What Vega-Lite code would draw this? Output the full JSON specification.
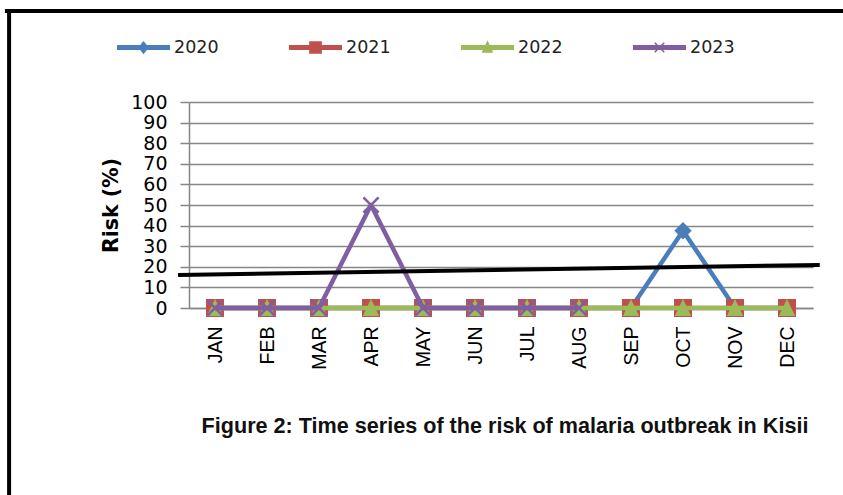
{
  "$schema": "https://vega.github.io/schema/vega-lite/v6.json",
  "width": 624,
  "height": 206,
  "autosize": "none",
  "padding": {"left": 189, "top": 102, "right": 30, "bottom": 187},
  "background": "white",
  "config": {"view": {"stroke": null}},
  "title": {
    "text": "Figure 2: Time series of the risk of malaria outbreak in Kisii",
    "orient": "bottom",
    "anchor": "middle",
    "dx": 4,
    "offset": -84,
    "font": "Liberation Sans",
    "fontSize": 21.6,
    "fontWeight": "bold",
    "color": "#111"
  },
  "datasets": {
    "risk": [
      {"year": "2020", "month": "JAN", "risk": 0},
      {"year": "2020", "month": "FEB", "risk": 0},
      {"year": "2020", "month": "MAR", "risk": 0},
      {"year": "2020", "month": "APR", "risk": 0},
      {"year": "2020", "month": "MAY", "risk": 0},
      {"year": "2020", "month": "JUN", "risk": 0},
      {"year": "2020", "month": "JUL", "risk": 0},
      {"year": "2020", "month": "AUG", "risk": 0},
      {"year": "2020", "month": "SEP", "risk": 0},
      {"year": "2020", "month": "OCT", "risk": 37.5},
      {"year": "2020", "month": "NOV", "risk": 0},
      {"year": "2020", "month": "DEC", "risk": 0},
      {"year": "2021", "month": "JAN", "risk": 0},
      {"year": "2021", "month": "FEB", "risk": 0},
      {"year": "2021", "month": "MAR", "risk": 0},
      {"year": "2021", "month": "APR", "risk": 0},
      {"year": "2021", "month": "MAY", "risk": 0},
      {"year": "2021", "month": "JUN", "risk": 0},
      {"year": "2021", "month": "JUL", "risk": 0},
      {"year": "2021", "month": "AUG", "risk": 0},
      {"year": "2021", "month": "SEP", "risk": 0},
      {"year": "2021", "month": "OCT", "risk": 0},
      {"year": "2021", "month": "NOV", "risk": 0},
      {"year": "2021", "month": "DEC", "risk": 0},
      {"year": "2022", "month": "JAN", "risk": 0},
      {"year": "2022", "month": "FEB", "risk": 0},
      {"year": "2022", "month": "MAR", "risk": 0},
      {"year": "2022", "month": "APR", "risk": 0},
      {"year": "2022", "month": "MAY", "risk": 0},
      {"year": "2022", "month": "JUN", "risk": 0},
      {"year": "2022", "month": "JUL", "risk": 0},
      {"year": "2022", "month": "AUG", "risk": 0},
      {"year": "2022", "month": "SEP", "risk": 0},
      {"year": "2022", "month": "OCT", "risk": 0},
      {"year": "2022", "month": "NOV", "risk": 0},
      {"year": "2022", "month": "DEC", "risk": 0},
      {"year": "2023", "month": "JAN", "risk": 0},
      {"year": "2023", "month": "FEB", "risk": 0},
      {"year": "2023", "month": "MAR", "risk": 0},
      {"year": "2023", "month": "APR", "risk": 50},
      {"year": "2023", "month": "MAY", "risk": 0},
      {"year": "2023", "month": "JUN", "risk": 0},
      {"year": "2023", "month": "JUL", "risk": 0},
      {"year": "2023", "month": "AUG", "risk": 0}
    ],
    "threshold": [
      {"t": -0.21, "risk": 16.0},
      {"t": 12.13, "risk": 20.9}
    ]
  },
  "resolve": {"scale": {"x": "independent", "y": "independent"}, "axis": {"x": "independent", "y": "independent"}},
  "layer": [
    {
      "data": {"name": "risk"},
      "encoding": {
        "x": {
          "field": "month",
          "type": "ordinal",
          "scale": {"domain": ["JAN","FEB","MAR","APR","MAY","JUN","JUL","AUG","SEP","OCT","NOV","DEC"], "paddingInner": 0, "paddingOuter": 0},
          "axis": {
            "title": null,
            "labelAngle": -90,
            "labelFont": "Liberation Sans",
            "labelFontSize": 19.5,
            "labelColor": "#000",
            "labelPadding": 12,
            "bandPosition": 0,
            "tickSize": 6,
            "tickColor": "#868686",
            "tickWidth": 1.5,
            "domainColor": "#868686",
            "domainWidth": 1.5,
            "grid": false
          }
        },
        "y": {
          "field": "risk",
          "type": "quantitative",
          "scale": {"domain": [0, 100], "nice": false, "zero": false},
          "axis": {
            "title": "Risk (%)",
            "titleFont": "DejaVu Sans",
            "titleFontSize": 20.5,
            "titleFontWeight": "bold",
            "titleColor": "#000",
            "titlePadding": 9,
            "values": [0,10,20,30,40,50,60,70,80,90,100],
            "labelFont": "DejaVu Sans",
            "labelFontSize": 19,
            "labelColor": "#000",
            "labelPadding": 13,
            "tickSize": 9,
            "tickColor": "#868686",
            "tickWidth": 1.5,
            "domainColor": "#868686",
            "domainWidth": 1.5,
            "grid": true,
            "gridColor": "#868686",
            "gridWidth": 1.5
          }
        },
        "color": {
          "field": "year",
          "type": "nominal",
          "scale": {"domain": ["2020","2021","2022","2023"], "range": ["#4A7EBB","#C0504D","#9BBB59","#7F5FA1"]},
          "legend": {
            "title": null,
            "orient": "none",
            "direction": "horizontal",
            "legendX": -72,
            "legendY": -81,
            "padding": 0,
            "symbolSize": 2809,
            "labelFont": "DejaVu Sans",
            "labelFontSize": 17.5,
            "labelColor": "#222",
            "labelOffset": 4,
            "columnPadding": 70,
            "encode": {
              "symbols": {
                "update": {
                  "shape": {"signal": "datum.value === '2020' ? 'M-1,-0.095H1V0.095H-1Z M0,-0.25L0.2,0L0,0.25L-0.2,0Z' : datum.value === '2021' ? 'M-1,-0.095H1V0.095H-1Z M-0.24,-0.24H0.24V0.24H-0.24Z' : datum.value === '2022' ? 'M-1,-0.095H1V0.095H-1Z M0,-0.27L0.22,0.2H-0.22Z' : 'M-1,-0.095H1V0.095H-1Z M-0.2,-0.16L-0.16,-0.2L0,-0.04L0.16,-0.2L0.2,-0.16L0.04,0L0.2,0.16L0.16,0.2L0,0.04L-0.16,0.2L-0.2,0.16L-0.04,0Z'"},
                  "fill": {"scale": "color", "field": "value"},
                  "fillOpacity": {"value": 1},
                  "opacity": {"value": 1},
                  "strokeWidth": {"value": 0}
                }
              }
            }
          }
        }
      },
      "layer": [
        {
          "transform": [{"filter": "datum.year === '2020'"}],
          "mark": {"type": "line", "strokeWidth": 4.5, "strokeJoin": "round"}
        },
        {
          "transform": [{"filter": "datum.year === '2020'"}],
          "mark": {"type": "point", "filled": true, "opacity": 1, "size": 300, "shape": "M0,-1L1,0L0,1L-1,0Z"}
        },
        {
          "transform": [{"filter": "datum.year === '2021'"}],
          "mark": {"type": "line", "strokeWidth": 4.5, "strokeJoin": "round"}
        },
        {
          "transform": [{"filter": "datum.year === '2021'"}],
          "mark": {"type": "point", "filled": true, "opacity": 1, "size": 324, "shape": "M-1,-1H1V1H-1Z"}
        },
        {
          "transform": [{"filter": "datum.year === '2022'"}],
          "mark": {"type": "line", "strokeWidth": 4.5, "strokeJoin": "round"}
        },
        {
          "transform": [{"filter": "datum.year === '2022'"}],
          "mark": {"type": "point", "filled": true, "opacity": 1, "size": 324, "shape": "M0,-1L0.9,0.9H-0.9Z"}
        },
        {
          "transform": [{"filter": "datum.year === '2023'"}],
          "mark": {"type": "line", "strokeWidth": 4.5, "strokeJoin": "round"}
        },
        {
          "transform": [{"filter": "datum.year === '2023'"}],
          "mark": {"type": "point", "filled": true, "opacity": 1, "size": 289, "shape": "M-1,-0.78L-0.78,-1L0,-0.22L0.78,-1L1,-0.78L0.22,0L1,0.78L0.78,1L0,0.22L-0.78,1L-1,0.78L-0.22,0Z"}
        }
      ]
    },
    {
      "layer": [
        {
          "data": {"name": "threshold"},
          "mark": {"type": "line", "color": "#000", "strokeWidth": 4, "clip": false},
          "encoding": {
            "x": {"field": "t", "type": "quantitative", "scale": {"domain": [0, 12], "nice": false, "zero": false}, "axis": null},
            "y": {"field": "risk", "type": "quantitative", "scale": {"domain": [0, 100], "nice": false, "zero": false}, "axis": null}
          }
        },
        {
          "data": {"values": [{}]},
          "mark": {"type": "rule", "color": "#000", "strokeWidth": 4, "clip": false},
          "encoding": {
            "x": {"datum": -3.54, "type": "quantitative", "scale": {"domain": [0, 12], "nice": false, "zero": false}, "axis": null},
            "x2": {"datum": 12.6},
            "y": {"datum": 144.2, "type": "quantitative", "scale": {"domain": [0, 100], "nice": false, "zero": false}, "axis": null}
          }
        },
        {
          "data": {"values": [{}]},
          "mark": {"type": "rule", "color": "#000", "strokeWidth": 4, "clip": false},
          "encoding": {
            "x": {"datum": -3.46, "type": "quantitative", "scale": {"domain": [0, 12], "nice": false, "zero": false}, "axis": null},
            "y": {"datum": 145.1, "type": "quantitative", "scale": {"domain": [0, 100], "nice": false, "zero": false}, "axis": null},
            "y2": {"datum": -92}
          }
        }
      ]
    }
  ]
}
